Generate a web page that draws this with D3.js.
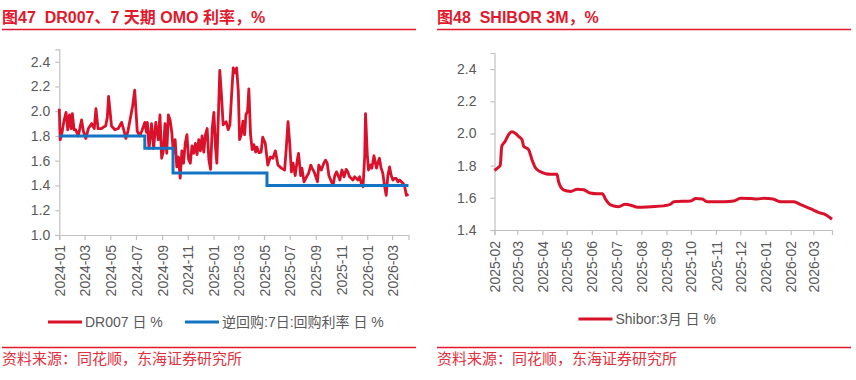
<!DOCTYPE html>
<html><head><meta charset="utf-8">
<script src="https://cdn.jsdelivr.net/npm/d3@7"></script>
<style>
html,body{margin:0;padding:0;background:#fff;}
svg text{font-family:"Liberation Sans",Arial,"Noto Sans CJK SC",sans-serif;}
</style></head>
<body><svg id="c" width="856" height="380"></svg>
<script>
// ---------- DATA ----------
const drDates = ["2024-01-01","2024-01-03","2024-01-06","2024-01-12","2024-01-17","2024-01-21","2024-01-25","2024-01-29","2024-02-01","2024-02-05","2024-02-09","2024-02-15","2024-02-23","2024-02-27","2024-03-04","2024-03-10","2024-03-18","2024-03-24","2024-03-28","2024-04-02","2024-04-10","2024-04-14","2024-04-20","2024-04-24","2024-04-27","2024-05-04","2024-05-12","2024-05-20","2024-05-28","2024-06-02","2024-06-07","2024-06-12","2024-06-18","2024-06-23","2024-06-28","2024-07-04","2024-07-10","2024-07-16","2024-07-22","2024-07-26","2024-07-28","2024-08-01","2024-08-07","2024-08-12","2024-08-17","2024-08-23","2024-08-27","2024-08-31","2024-09-04","2024-09-08","2024-09-12","2024-09-16","2024-09-20","2024-09-24","2024-09-28","2024-10-02","2024-10-06","2024-10-10","2024-10-14","2024-10-18","2024-10-22","2024-10-26","2024-10-30","2024-11-03","2024-11-07","2024-11-11","2024-11-15","2024-11-19","2024-11-23","2024-11-27","2024-12-01","2024-12-05","2024-12-09","2024-12-13","2024-12-17","2024-12-21","2024-12-25","2024-12-29","2025-01-02","2025-01-06","2025-01-09","2025-01-13","2025-01-16","2025-01-20","2025-01-24","2025-01-31","2025-02-05","2025-02-09","2025-02-13","2025-02-17","2025-02-21","2025-02-25","2025-03-01","2025-03-04","2025-03-08","2025-03-12","2025-03-16","2025-03-19","2025-03-23","2025-03-26","2025-03-30","2025-04-03","2025-04-07","2025-04-11","2025-04-14","2025-04-19","2025-04-24","2025-04-28","2025-05-04","2025-05-10","2025-05-16","2025-05-22","2025-05-28","2025-06-03","2025-06-11","2025-06-19","2025-06-23","2025-06-27","2025-07-01","2025-07-05","2025-07-09","2025-07-14","2025-07-19","2025-07-22","2025-07-27","2025-07-30","2025-08-04","2025-08-10","2025-08-15","2025-08-20","2025-08-23","2025-08-28","2025-08-31","2025-09-05","2025-09-08","2025-09-14","2025-09-20","2025-09-24","2025-09-28","2025-10-02","2025-10-08","2025-10-12","2025-10-16","2025-10-20","2025-10-24","2025-10-28","2025-11-02","2025-11-07","2025-11-12","2025-11-16","2025-11-20","2025-11-24","2025-11-28","2025-12-02","2025-12-06","2025-12-10","2025-12-14","2025-12-18","2025-12-22","2025-12-26","2025-12-28","2026-01-01","2026-01-04","2026-01-09","2026-01-12","2026-01-17","2026-01-23","2026-01-26","2026-01-30","2026-02-03","2026-02-07","2026-02-11","2026-02-15","2026-02-19","2026-02-23","2026-02-27","2026-03-03","2026-03-07","2026-03-11","2026-03-15","2026-03-19","2026-03-23","2026-03-27","2026-03-31","2026-04-04","2026-04-09"];
const dr007 = [2.02,1.77,1.80,1.92,1.99,1.85,1.97,1.86,1.98,1.85,1.85,1.80,1.93,1.84,1.78,1.86,1.90,1.86,2.02,1.86,1.86,1.87,1.88,1.95,2.12,1.88,1.85,1.86,1.91,1.85,1.78,1.84,1.95,2.04,2.17,1.84,1.80,1.85,1.91,1.83,1.91,1.70,1.90,1.70,1.91,1.77,1.97,1.62,1.68,1.90,1.66,1.97,1.93,1.83,1.66,1.77,1.55,1.63,1.46,1.68,1.58,1.74,1.81,1.61,1.58,1.72,1.66,1.74,1.65,1.77,1.68,1.80,1.67,1.81,1.86,1.61,1.53,1.86,1.99,1.70,1.58,2.00,2.33,2.13,1.89,1.915,1.85,1.89,2.13,2.35,2.31,2.35,2.16,1.77,1.81,1.92,1.81,1.97,2.00,2.18,1.81,1.69,1.73,1.67,1.71,1.665,1.67,1.79,1.74,1.565,1.63,1.62,1.68,1.565,1.54,1.525,1.71,1.915,1.74,1.51,1.58,1.48,1.605,1.66,1.48,1.54,1.43,1.47,1.50,1.565,1.54,1.51,1.48,1.43,1.565,1.525,1.58,1.605,1.58,1.48,1.43,1.40,1.48,1.51,1.48,1.444,1.525,1.47,1.53,1.51,1.47,1.458,1.444,1.47,1.458,1.444,1.47,1.418,1.39,1.63,1.98,1.66,1.525,1.565,1.54,1.64,1.54,1.58,1.62,1.54,1.50,1.40,1.32,1.48,1.55,1.48,1.444,1.458,1.458,1.43,1.444,1.43,1.42,1.39,1.32,1.33];

const omoDates = ["2024-01-01","2024-07-22","2024-09-27","2025-05-08","2026-04-09"];
const omoRate = [1.8,1.7,1.5,1.4,1.4];

const shiborDates = ["2025-02-01","2025-02-06","2025-02-08","2025-02-10","2025-02-14","2025-02-18","2025-02-22","2025-02-27","2025-03-03","2025-03-07","2025-03-09","2025-03-15","2025-03-19","2025-03-23","2025-03-29","2025-04-05","2025-04-11","2025-04-19","2025-04-21","2025-04-27","2025-05-06","2025-05-14","2025-05-22","2025-05-30","2025-06-08","2025-06-14","2025-06-18","2025-06-24","2025-07-04","2025-07-12","2025-07-21","2025-07-27","2025-08-13","2025-08-29","2025-09-06","2025-09-10","2025-10-01","2025-10-07","2025-10-15","2025-10-21","2025-11-11","2025-11-23","2025-12-01","2025-12-14","2025-12-22","2025-12-30","2026-01-10","2026-01-20","2026-02-05","2026-02-14","2026-02-26","2026-03-08","2026-03-14","2026-03-24"];
const shibor3m = [1.77,1.79,1.80,1.92,1.95,1.99,2.01,2.00,1.98,1.96,1.92,1.90,1.84,1.79,1.763,1.75,1.747,1.747,1.70,1.65,1.64,1.654,1.65,1.63,1.625,1.625,1.59,1.556,1.545,1.56,1.551,1.541,1.545,1.55,1.56,1.576,1.58,1.595,1.593,1.576,1.576,1.58,1.597,1.595,1.593,1.597,1.593,1.576,1.575,1.556,1.531,1.508,1.50,1.467];

const leftTicks = ["2024-01","2024-03","2024-05","2024-07","2024-09","2024-11","2025-01","2025-03","2025-05","2025-07","2025-09","2025-11","2026-01","2026-03"];
const rightTicks = ["2025-02","2025-03","2025-04","2025-05","2025-06","2025-07","2025-08","2025-09","2025-10","2025-11","2025-12","2026-01","2026-02","2026-03"];
const leftYTicks = [1.0,1.2,1.4,1.6,1.8,2.0,2.2,2.4];
const rightYTicks = [1.4,1.6,1.8,2.0,2.2,2.4];

// ---------- DRAW ----------
const pd = d3.utcParse("%Y-%m-%d");
const pm = d3.utcParse("%Y-%m");
const svg = d3.select("#c");
const RED = "#d9112b", BLUE = "#1474c4", HEAD = "#e2182d", GREY = "#595959", AX = "#c0c0c0";

function header(x0, x1, title) {
  svg.append("text").attr("x", x0).attr("y", 22.5).attr("fill", HEAD)
    .attr("font-size", 16).attr("font-weight", "bold").attr("xml:space","preserve").text(title);
  svg.append("line").attr("x1", x0).attr("x2", x1).attr("y1", 29.5).attr("y2", 29.5)
    .attr("stroke", HEAD).attr("stroke-width", 1.6);
  svg.append("line").attr("x1", x0).attr("x2", x1).attr("y1", 347.5).attr("y2", 347.5)
    .attr("stroke", HEAD).attr("stroke-width", 1.6);
  svg.append("text").attr("x", x0).attr("y", 364).attr("fill", "#e0303d")
    .attr("font-size", 15).text("资料来源：同花顺，东海证券研究所");
}
header(2, 416, "图47  DR007、7 天期 OMO 利率，%");
header(437, 851, "图48  SHIBOR 3M，%");

function axes(g, x, y, xt, yt, yLabelGap, xLabelTop) {
  const yA = g.append("g").attr("transform", `translate(${x.range()[0]},0)`)
    .call(d3.axisLeft(y).tickValues(yt).tickFormat(d3.format(".1f")).tickSize(4).tickPadding(yLabelGap));
  const xA = g.append("g").attr("transform", `translate(0,${y.range()[0]})`)
    .call(d3.axisBottom(x).tickValues(xt.map(pm)).tickFormat(d3.utcFormat("%Y-%m")).tickSize(5));
  [yA, xA].forEach(a => {
    a.select(".domain").attr("stroke", AX).attr("stroke-width", 1.2);
    a.selectAll(".tick line").attr("stroke", AX).attr("stroke-width", 1.2);
    a.selectAll("text").attr("fill", GREY).attr("font-size", 14);
  });
  xA.selectAll("text").attr("transform", "rotate(-90)")
    .attr("text-anchor", "end").attr("x", -xLabelTop).attr("y", 0).attr("dy", "0.36em");
}

// Left chart
const xL = d3.scaleUtc().domain([pd("2024-01-01"), pd("2026-04-09")]).range([59.3, 408.5]);
const yL = d3.scaleLinear().domain([1.0, 2.5]).range([235, 49.3]);
const gL = svg.append("g");
axes(gL, xL, yL, leftTicks, leftYTicks, 5, 10);
gL.append("path").datum(drDates.map((d, i) => [pd(d), dr007[i]]))
  .attr("fill", "none").attr("stroke", RED).attr("stroke-width", 2.8).attr("stroke-linejoin", "round")
  .attr("d", d3.line().x(d => xL(d[0])).y(d => yL(d[1])));
gL.append("path").datum(omoDates.map((d, i) => [pd(d), omoRate[i]]))
  .attr("fill", "none").attr("stroke", BLUE).attr("stroke-width", 3)
  .attr("d", d3.line().curve(d3.curveStepAfter).x(d => xL(d[0])).y(d => yL(d[1])));

// Left legend
function legendItem(x, y, color, label) {
  svg.append("line").attr("x1", x).attr("x2", x + 34).attr("y1", y).attr("y2", y)
    .attr("stroke", color).attr("stroke-width", 3);
  svg.append("text").attr("x", x + 37).attr("y", y + 5).attr("fill", GREY).attr("font-size", 14).text(label);
}
legendItem(48, 322, RED, "DR007 日 %");
legendItem(185, 322, BLUE, "逆回购:7日:回购利率 日 %");

// Right chart
const xR = d3.scaleUtc().domain([pd("2025-02-01"), pd("2026-03-24")]).range([494.5, 832]);
const yR = d3.scaleLinear().domain([1.4, 2.5]).range([230, 53]);
const gR = svg.append("g");
axes(gR, xR, yR, rightTicks, rightYTicks, 14, 11);
gR.append("path").datum(shiborDates.map((d, i) => [pd(d), shibor3m[i]]))
  .attr("fill", "none").attr("stroke", RED).attr("stroke-width", 3).attr("stroke-linejoin", "round")
  .attr("d", d3.line().curve(d3.curveMonotoneX).x(d => xR(d[0])).y(d => yR(d[1])));
legendItem(578.5, 319, RED, "Shibor:3月 日 %");
</script></body></html>
